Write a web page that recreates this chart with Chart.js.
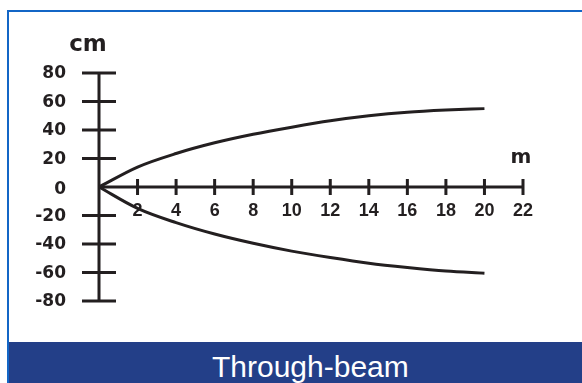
<!DOCTYPE html>
<html>
<head>
<meta charset="utf-8">
<script src="https://cdn.jsdelivr.net/npm/chart.js@4"></script>
<style>
  html, body { margin: 0; padding: 0; background: #ffffff; }
  body { width: 582px; height: 383px; position: relative; overflow: hidden; }
  #frame { position: absolute; left: 7px; top: 10px; right: -10px; bottom: -10px;
           border-left: 2px solid #1366c6; border-top: 2px solid #1366c6; }
  #footer { position: absolute; left: 9px; right: 0; top: 342px; bottom: 0; background: #233f88;
            color: #ffffff; font-family: "Liberation Sans", Arial, sans-serif; font-size: 30px; }
  #footer span { position: absolute; left: 203px; top: 7px; white-space: nowrap; line-height: 36px; }
  #wrap { position: absolute; left: 0; top: 0; width: 582px; height: 383px; }
</style>
</head>
<body>
<div id="frame"></div>
<div id="footer"><span>Through-beam</span></div>
<div id="wrap"><canvas id="c" width="582" height="383"></canvas></div>
<script>
// ---- data ----
const distances = [0, 2, 4, 6, 8, 10, 12, 14, 16, 18, 20];          // m
const upperBeam = [0, 14, 23.5, 31, 37, 42, 46.5, 50, 52.5, 54, 55];    // cm
const lowerBeam = [0, -15, -25, -33, -39.5, -45, -49.5, -53.5, -56.5, -59, -60.5]; // cm
const xTicks = [2, 4, 6, 8, 10, 12, 14, 16, 18, 20, 22];
const yTicks = [80, 60, 40, 20, 0, -20, -40, -60, -80];
const xUnit = 'm';
const yUnit = 'cm';
const title = 'Through-beam';

const INK = '#231f20';

const axesPlugin = {
  id: 'crossAxes',
  beforeDatasetsDraw(chart) {
    const ctx = chart.ctx;
    const xs = chart.scales.x, ys = chart.scales.y;
    const x0 = xs.getPixelForValue(0), y0 = ys.getPixelForValue(0);
    ctx.save();
    ctx.strokeStyle = INK;
    ctx.fillStyle = INK;
    ctx.lineWidth = 3;
    ctx.lineCap = 'butt';
    // axis lines
    ctx.beginPath();
    ctx.moveTo(x0, y0);
    ctx.lineTo(xs.getPixelForValue(xTicks[xTicks.length - 1]), y0);
    ctx.moveTo(x0, ys.getPixelForValue(Math.max(...yTicks)));
    ctx.lineTo(x0, ys.getPixelForValue(Math.min(...yTicks)));
    ctx.stroke();
    // x tick marks
    ctx.beginPath();
    xTicks.forEach(v => {
      const px = xs.getPixelForValue(v);
      ctx.moveTo(px, y0 - 8);
      ctx.lineTo(px, y0 + 8);
    });
    // y tick marks
    yTicks.forEach(v => {
      if (v === 0) return;
      const py = ys.getPixelForValue(v);
      ctx.moveTo(x0 - 17, py);
      ctx.lineTo(x0 + 17, py);
    });
    ctx.stroke();
    // y labels
    ctx.font = 'bold 17px "DejaVu Sans"';
    ctx.textAlign = 'right';
    ctx.textBaseline = 'middle';
    yTicks.forEach(v => {
      const py = ys.getPixelForValue(v);
      ctx.fillText(String(v), x0 - 33, py + (v === 0 ? 3 : 1));
    });
    // x labels
    ctx.font = 'bold 18px "Liberation Sans"';
    ctx.textAlign = 'center';
    ctx.textBaseline = 'alphabetic';
    xTicks.forEach(v => {
      ctx.fillText(String(v), xs.getPixelForValue(v), y0 + 29);
    });
    // unit labels
    ctx.font = 'bold 23px "DejaVu Sans"';
    ctx.fillText(yUnit, x0 - 11, ys.getPixelForValue(Math.max(...yTicks)) - 22);
    ctx.font = 'bold 20px "DejaVu Sans"';
    ctx.fillText(xUnit, xs.getPixelForValue(xTicks[xTicks.length - 1]) - 2, y0 - 24);
    ctx.restore();
  }
};

const toPts = (ys) => distances.map((d, i) => ({ x: d, y: ys[i] }));

new Chart(document.getElementById('c'), {
  type: 'line',
  data: {
    datasets: [
      { label: 'upper', data: toPts(upperBeam), borderColor: INK, borderWidth: 3,
        pointRadius: 0, cubicInterpolationMode: 'monotone', fill: false, clip: false },
      { label: 'lower', data: toPts(lowerBeam), borderColor: INK, borderWidth: 3,
        pointRadius: 0, cubicInterpolationMode: 'monotone', fill: false, clip: false }
    ]
  },
  options: {
    responsive: false,
    animation: false,
    layout: { padding: { left: 99, right: 59, top: 73, bottom: 82 } },
    plugins: { legend: { display: false }, tooltip: { enabled: false }, title: { display: false } },
    scales: {
      x: { type: 'linear', min: 0, max: 22, display: false },
      y: { type: 'linear', min: -80, max: 80, display: false }
    }
  },
  plugins: [axesPlugin]
});
</script>
</body>
</html>
